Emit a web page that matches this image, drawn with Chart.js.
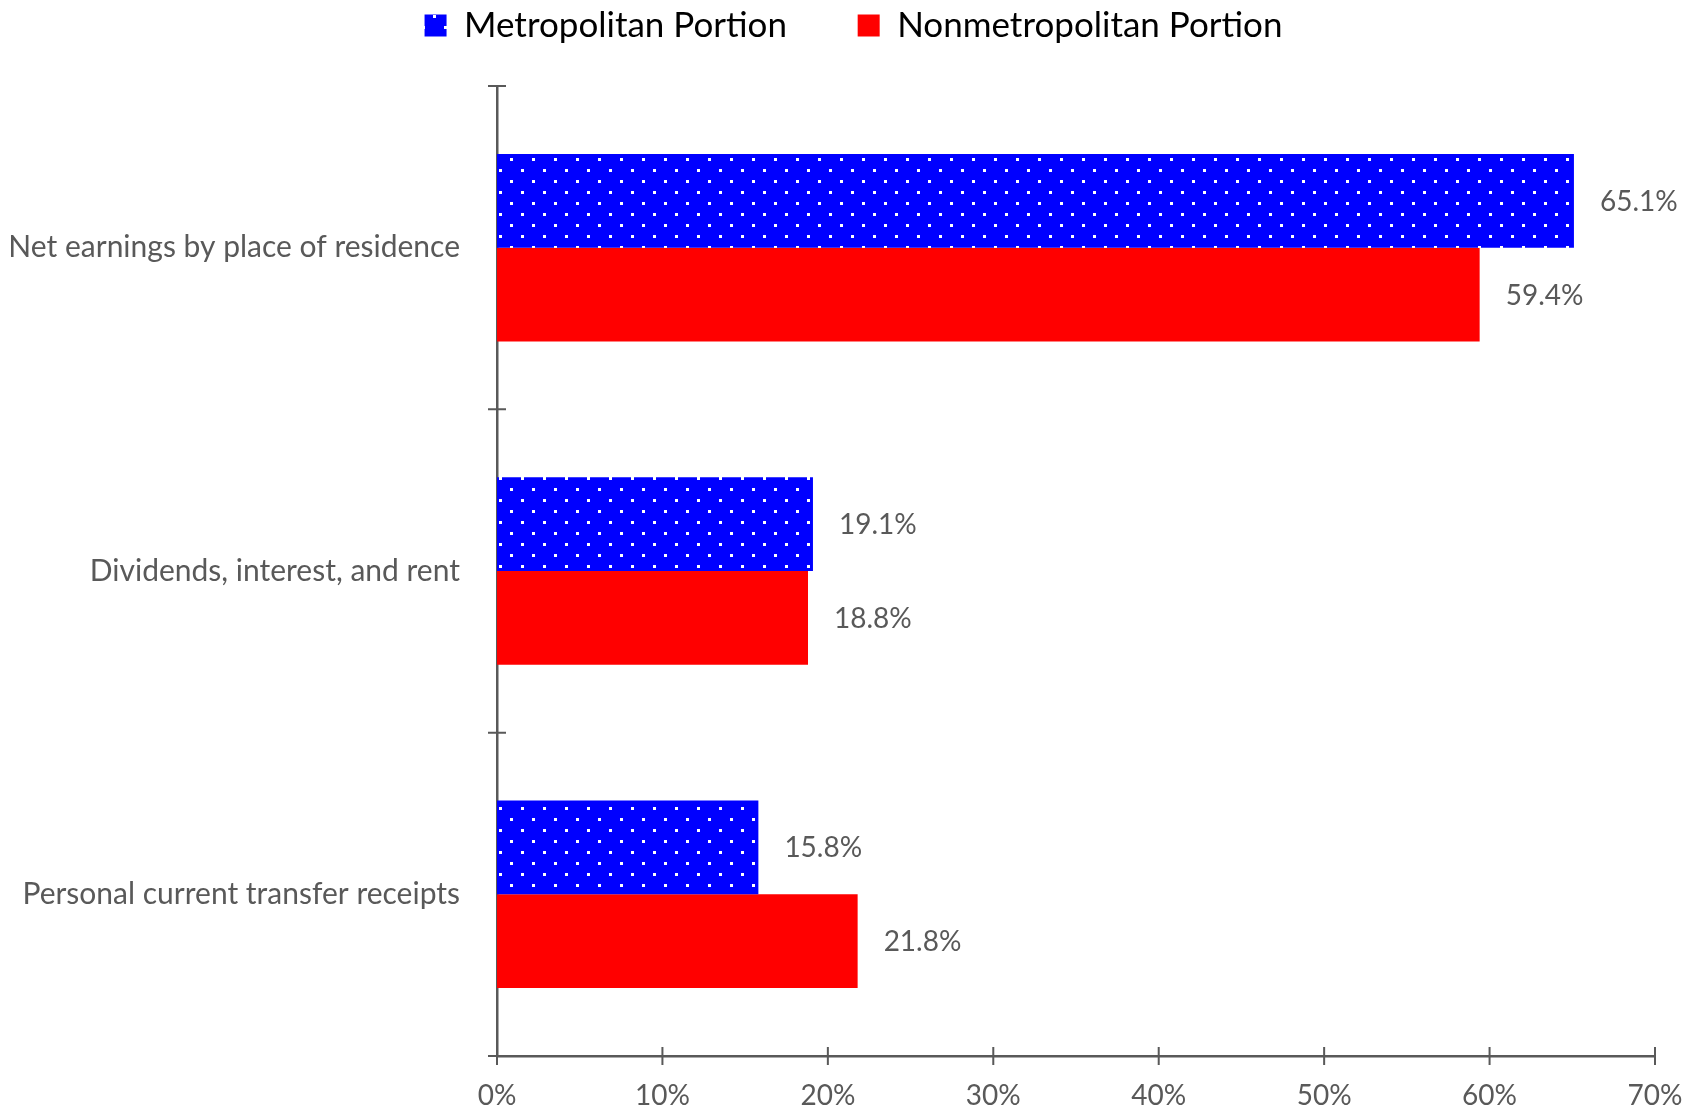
<!DOCTYPE html>
<html>
<head>
<meta charset="utf-8">
<script src="https://cdn.jsdelivr.net/npm/chart.js@4.4.1/dist/chart.umd.min.js"></script>
<style>
	html, body { margin: 0; padding: 0; background: #fff; }
	#wrap { width: 1701px; height: 1111px; }
</style>
</head>
<body>
<div id="wrap"><canvas id="chart" width="1701" height="1111"></canvas></div>
<script>
const categories = ["Net earnings by place of residence", "Dividends, interest, and rent", "Personal current transfer receipts"];
const metroValues = [65.1, 19.1, 15.8];
const nonmetroValues = [59.4, 18.8, 21.8];
const xTicks = [0, 10, 20, 30, 40, 50, 60, 70];

const FONT = "Lato, 'DejaVu Sans', sans-serif";
const GREY = "#595959";

// blue with white dots
function dotPattern() {
	let c = document.createElement("canvas");
	c.width = 22;
	c.height = 22;
	let g = c.getContext("2d");
	g.fillStyle = "#0000ff";
	g.fillRect(0, 0, 22, 22);
	g.fillStyle = "#ffffff";
	g.fillRect(4, 4, 3, 3);
	g.fillRect(15, 15, 3, 3);
	return g.createPattern(c, "repeat");
}

const valueLabels = {
	id: "valueLabels",
	afterDatasetsDraw(chart) {
		let g = chart.ctx;
		g.save();
		g.font = "28px " + FONT;
		g.fillStyle = GREY;
		g.textAlign = "left";
		g.textBaseline = "middle";
		chart.data.datasets.forEach((ds, i) => {
			chart.getDatasetMeta(i).data.forEach((bar, j) => {
				g.fillText(ds.data[j].toFixed(1) + "%", bar.x + 26, bar.y + 1);
			});
		});
		g.restore();
	}
};

// tick marks that cross the axis lines
const crossTicks = {
	id: "crossTicks",
	afterDraw(chart) {
		let g = chart.ctx;
		let xs = chart.scales.x, ys = chart.scales.y;
		g.save();
		g.strokeStyle = GREY;
		g.lineWidth = 2;
		g.beginPath();
		xs.ticks.forEach(t => {
			let px = xs.getPixelForValue(t.value);
			g.moveTo(px, ys.bottom - 9);
			g.lineTo(px, ys.bottom + 9);
		});
		for (let i = 0; i <= categories.length; i++) {
			let py = ys.top + (ys.bottom - ys.top) * i / categories.length;
			g.moveTo(xs.left - 9, py);
			g.lineTo(xs.left + 9, py);
		}
		g.stroke();
		g.restore();
	}
};

// leave room under the legend (plot starts at y=86), and centre it on the page
const legendGap = {
	id: "legendGap",
	afterInit(chart) {
		let lg = chart.legend;
		let fit = lg.fit.bind(lg);
		lg.fit = function () {
			fit();
			this.height = 86;
		};
	},
	afterLayout(chart) {
		chart.legend.left += 26;
		chart.legend.right += 26;
	}
};

let ctx = document.getElementById("chart");
let data = {
	labels: categories,
	datasets: [{
		label: "Metropolitan Portion",
		data: metroValues,
		backgroundColor: dotPattern(),
		categoryPercentage: 0.58,
		barPercentage: 1.0
	}, {
		label: "Nonmetropolitan Portion",
		data: nonmetroValues,
		backgroundColor: "#ff0000",
		categoryPercentage: 0.58,
		barPercentage: 1.0
	}]
};
const config = {
	type: "bar",
	data: data,
	plugins: [valueLabels, crossTicks, legendGap],
	options: {
		indexAxis: "y",
		responsive: false,
		animation: false,
		layout: {
			padding: { left: 0, right: 46, top: 0, bottom: 0 }
		},
		plugins: {
			tooltip: { enabled: false },
			legend: {
				position: "top",
				align: "center",
				labels: {
					color: "#000",
					font: { family: FONT, size: 35 },
					boxWidth: 22,
					boxHeight: 22,
					padding: 8,
					generateLabels: chart => {
						let items = Chart.defaults.plugins.legend.labels.generateLabels(chart);
						items[0].text = items[0].text + "       ";
						return items;
					}
				}
			}
		},
		scales: {
			x: {
				type: "linear",
				min: 0,
				max: 70,
				afterBuildTicks: axis => {
					axis.ticks = xTicks.map(v => ({ value: v }));
				},
				afterFit: axis => {
					axis.height = 53;
					axis.paddingRight = 0;
				},
				border: { display: true, color: GREY, width: 2.5 },
				grid: { display: false, drawTicks: false },
				ticks: {
					color: GREY,
					padding: 23,
					font: { family: FONT, size: 28 },
					callback: v => v + "%"
				}
			},
			y: {
				afterFit: axis => { axis.width = 497; },
				border: { display: true, color: GREY, width: 2.5 },
				grid: { display: false, drawTicks: false },
				ticks: {
					color: GREY,
					padding: 37,
					font: { family: FONT, size: 30 }
				}
			}
		}
	}
};
let chart = new Chart(ctx, config);
</script>
</body>
</html>
